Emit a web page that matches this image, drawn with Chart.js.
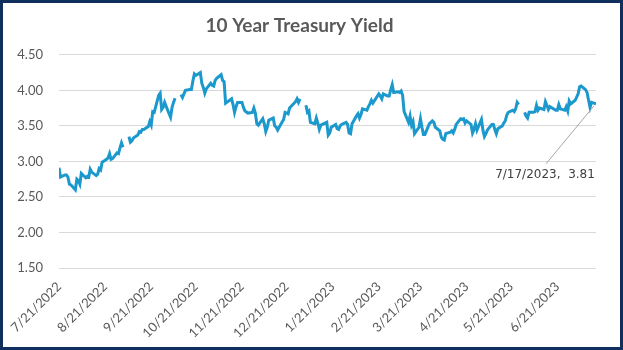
<!DOCTYPE html>
<html lang="en">
<head>
<meta charset="UTF-8">
<title>10 Year Treasury Yield</title>
<script src="https://cdn.jsdelivr.net/npm/chart.js"></script>
<style>
  html, body { margin: 0; padding: 0; background: #fff; }
  .frame { width: 623px; height: 350px; box-sizing: border-box; border: 3px solid #0f2f5c; background: #fff; }
  .frame canvas { display: block; }
</style>
</head>
<body>
<div class="frame"><canvas id="myChart" width="617" height="344"></canvas></div>
<script>
    // daily closes, null = market holiday (shows as a break in the line)
    const dates = [
        '7/21/2022','7/22/2022','7/25/2022','7/26/2022','7/27/2022','7/28/2022','7/29/2022',
        '8/1/2022','8/2/2022','8/3/2022','8/4/2022','8/5/2022','8/8/2022','8/9/2022','8/10/2022','8/11/2022','8/12/2022',
        '8/15/2022','8/16/2022','8/17/2022','8/18/2022','8/19/2022','8/22/2022','8/23/2022','8/24/2022','8/25/2022','8/26/2022',
        '8/29/2022','8/30/2022','8/31/2022','9/1/2022','9/2/2022','9/5/2022','9/6/2022','9/7/2022','9/8/2022','9/9/2022',
        '9/12/2022','9/13/2022','9/14/2022','9/15/2022','9/16/2022','9/19/2022','9/20/2022','9/21/2022','9/22/2022','9/23/2022',
        '9/26/2022','9/27/2022','9/28/2022','9/29/2022','9/30/2022','10/3/2022','10/4/2022','10/5/2022','10/6/2022','10/7/2022',
        '10/10/2022','10/11/2022','10/12/2022','10/13/2022','10/14/2022','10/17/2022','10/18/2022','10/19/2022','10/20/2022','10/21/2022',
        '10/24/2022','10/25/2022','10/26/2022','10/27/2022','10/28/2022','10/31/2022','11/1/2022','11/2/2022','11/3/2022','11/4/2022',
        '11/7/2022','11/8/2022','11/9/2022','11/10/2022','11/14/2022','11/15/2022','11/16/2022','11/17/2022','11/18/2022',
        '11/21/2022','11/22/2022','11/23/2022','11/25/2022','11/28/2022','11/29/2022','11/30/2022','12/1/2022','12/2/2022',
        '12/5/2022','12/6/2022','12/7/2022','12/8/2022','12/9/2022','12/12/2022','12/13/2022','12/14/2022','12/15/2022','12/16/2022',
        '12/19/2022','12/20/2022','12/21/2022','12/22/2022','12/23/2022','12/27/2022','12/28/2022','12/29/2022','12/30/2022',
        '1/2/2023','1/3/2023','1/4/2023','1/5/2023','1/6/2023','1/9/2023','1/10/2023','1/11/2023','1/12/2023','1/13/2023',
        '1/17/2023','1/18/2023','1/19/2023','1/20/2023','1/23/2023','1/24/2023','1/25/2023','1/26/2023','1/27/2023',
        '1/30/2023','1/31/2023','2/1/2023','2/2/2023','2/3/2023','2/6/2023','2/7/2023','2/8/2023','2/9/2023','2/10/2023',
        '2/13/2023','2/14/2023','2/15/2023','2/16/2023','2/17/2023','2/21/2023','2/22/2023','2/23/2023','2/24/2023',
        '2/27/2023','2/28/2023','3/1/2023','3/2/2023','3/3/2023','3/6/2023','3/7/2023','3/8/2023','3/9/2023','3/10/2023',
        '3/13/2023','3/14/2023','3/15/2023','3/16/2023','3/17/2023','3/20/2023','3/21/2023','3/22/2023','3/23/2023','3/24/2023',
        '3/27/2023','3/28/2023','3/29/2023','3/30/2023','3/31/2023','4/3/2023','4/4/2023','4/5/2023','4/6/2023','4/7/2023',
        '4/10/2023','4/11/2023','4/12/2023','4/13/2023','4/14/2023','4/17/2023','4/18/2023','4/19/2023','4/20/2023','4/21/2023',
        '4/24/2023','4/25/2023','4/26/2023','4/27/2023','4/28/2023','5/1/2023','5/2/2023','5/3/2023','5/4/2023','5/5/2023',
        '5/8/2023','5/9/2023','5/10/2023','5/11/2023','5/12/2023','5/15/2023','5/16/2023','5/17/2023','5/18/2023','5/19/2023',
        '5/22/2023','5/23/2023','5/24/2023','5/25/2023','5/26/2023','5/29/2023','5/30/2023','5/31/2023','6/1/2023','6/2/2023',
        '6/5/2023','6/6/2023','6/7/2023','6/8/2023','6/9/2023','6/12/2023','6/13/2023','6/14/2023','6/15/2023','6/16/2023',
        '6/20/2023','6/21/2023','6/22/2023','6/23/2023','6/26/2023','6/27/2023','6/28/2023','6/29/2023','6/30/2023',
        '7/3/2023','7/5/2023','7/6/2023','7/7/2023','7/10/2023','7/11/2023','7/12/2023','7/13/2023','7/14/2023','7/17/2023'
    ];
    const yields = [
        2.91,2.78,2.81,2.81,2.78,2.68,2.67,
        2.60,2.75,2.73,2.68,2.83,2.77,2.79,2.78,2.89,2.85,
        2.80,2.82,2.90,2.88,2.99,3.03,3.05,3.11,3.03,3.04,
        3.12,3.11,3.19,3.26,3.20,null,3.35,3.27,3.29,3.33,
        3.37,3.42,3.41,3.45,3.45,3.49,3.56,3.51,3.70,3.69,
        3.93,3.96,3.73,3.76,3.83,3.67,3.62,3.76,3.83,3.89,
        null,3.94,3.90,3.95,4.00,4.01,4.01,4.13,4.23,4.21,
        4.25,4.10,4.04,3.96,4.02,4.10,4.07,4.06,4.14,4.17,
        4.22,4.14,4.12,3.82,3.88,3.80,3.69,3.77,3.83,
        3.83,3.76,3.71,3.68,3.69,3.75,3.68,3.53,3.51,
        3.60,3.53,3.42,3.48,3.58,3.61,3.50,3.48,3.44,3.48,
        3.59,3.69,3.68,3.67,3.75,3.84,3.88,3.83,3.88,
        null,3.79,3.69,3.71,3.55,3.53,3.61,3.54,3.45,3.51,
        3.55,3.37,3.40,3.48,3.52,3.46,3.45,3.50,3.52,
        3.55,3.52,3.40,3.39,3.53,3.64,3.67,3.61,3.66,3.74,
        3.72,3.77,3.81,3.86,3.82,3.95,3.92,3.88,3.95,
        3.92,3.92,4.01,4.08,3.97,3.98,3.97,3.99,3.93,3.70,
        3.55,3.64,3.51,3.56,3.39,3.48,3.60,3.48,3.38,3.38,
        3.53,3.55,3.57,3.55,3.48,3.43,3.34,3.31,3.30,3.39,
        3.41,3.43,3.40,3.45,3.52,3.60,3.59,3.60,3.54,3.57,
        3.52,3.40,3.45,3.53,3.44,3.59,3.44,3.35,3.39,3.44,
        3.52,3.52,3.45,3.39,3.46,3.50,3.54,3.57,3.65,3.69,
        3.72,3.70,3.74,3.83,3.80,null,3.69,3.64,3.61,3.69,
        3.69,3.70,3.79,3.72,3.75,3.73,3.84,3.79,3.73,3.77,
        3.72,3.72,3.80,3.74,3.72,3.77,3.71,3.85,3.81,
        3.86,3.95,4.05,4.06,4.01,3.97,3.86,3.76,3.83,3.81
    ];
    const tickDates = ['7/21/2022','8/21/2022','9/21/2022','10/21/2022','11/21/2022','12/21/2022',
                       '1/21/2023','2/21/2023','3/21/2023','4/21/2023','5/21/2023','6/21/2023'];
    const yMin = 1.5, yMax = 4.5, yStep = 0.5;

    function DayNum(s) {
        let p = s.split('/').map(Number);
        return Date.UTC(p[2], p[0] - 1, p[1]) / 86400000;
    }
    function DayLabel(n) {
        let d = new Date(n * 86400000);
        return (d.getUTCMonth() + 1) + '/' + d.getUTCDate() + '/' + d.getUTCFullYear();
    }

    var points = dates.map((d, i) => ({ x: DayNum(d), y: yields[i] }));

    // callout next to the last point
    const callout = {
        id: 'callout',
        afterDatasetsDraw(chart) {
            var meta = chart.getDatasetMeta(0);
            var last = meta.data[meta.data.length - 1];
            var ctx = chart.ctx;
            ctx.save();
            ctx.strokeStyle = '#a6a6a6';
            ctx.lineWidth = 1;
            ctx.beginPath();
            ctx.moveTo(last.x - 2, last.y + 2);
            ctx.lineTo(last.x - 50, last.y + 60);
            ctx.stroke();
            ctx.fillStyle = '#404040';
            ctx.font = '12px "DejaVu Sans"';
            ctx.textAlign = 'center';
            ctx.textBaseline = 'top';
            ctx.fillText(dates[dates.length - 1] + ',  ' + yields[yields.length - 1].toFixed(2), last.x - 51, last.y + 65);
            ctx.restore();
        }
    };

    var ctx = document.getElementById('myChart').getContext('2d');
    var myChart = new Chart(ctx, {
        type: 'line',
        data: {
            datasets: [{
                data: points,
                borderColor: '#1b98cc',
                borderWidth: 3,
                pointRadius: 0,
                tension: 0,
                spanGaps: false
            }]
        },
        options: {
            responsive: false,
            animation: false,
            layout: { padding: { top: 11, right: 24, left: 0, bottom: 0 } },
            plugins: {
                legend: { display: false },
                tooltip: { enabled: false },
                title: {
                    display: true,
                    text: '10 Year Treasury Yield',
                    color: '#595959',
                    font: { family: 'Lato', size: 19, weight: 'bold' },
                    padding: { top: 0, bottom: 18 }
                }
            },
            scales: {
                x: {
                    type: 'linear',
                    min: DayNum(dates[0]),
                    max: DayNum(dates[dates.length - 1]),
                    afterBuildTicks: (s) => { s.ticks = tickDates.map(d => ({ value: DayNum(d) })); },
                    afterFit: (s) => { s.height = 79; },
                    grid: { display: false },
                    border: { display: false },
                    ticks: {
                        autoSkip: false,
                        minRotation: 45,
                        maxRotation: 45,
                        padding: 3,
                        color: '#595959',
                        font: { family: 'Lato', size: 13 },
                        callback: (v) => DayLabel(v)
                    }
                },
                y: {
                    min: yMin,
                    max: yMax,
                    afterFit: (s) => { s.width = 56; },
                    grid: { color: '#d9d9d9', lineWidth: 1, drawTicks: false },
                    border: { display: false },
                    ticks: {
                        stepSize: yStep,
                        padding: 16,
                        color: '#595959',
                        font: { family: 'Lato', size: 13 },
                        callback: (v) => v.toFixed(2)
                    }
                }
            }
        },
        plugins: [callout]
    });
</script>
</body>
</html>
